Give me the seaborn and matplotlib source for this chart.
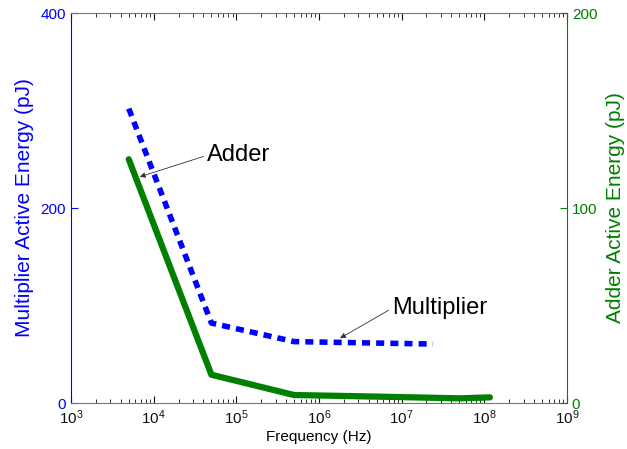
import numpy as np
import pandas as pd
import matplotlib
matplotlib.use("Agg")
import matplotlib.pyplot as plt
import seaborn as sns
from matplotlib.ticker import LogLocator

# values
mult_freq = [5e3, 5e4, 5e5, 5e6, 2.4e7]
mult_energy = [302, 82, 63, 61.5, 60.5]
adder_freq = [5e3, 5e4, 5e5, 5e6, 5e7, 1.17e8]
adder_energy = [125, 14.5, 4.1, 3.3, 2.4, 2.9]

blue = "#0000FF"
green = "#007F00"

sns.set_style("white")
plt.rcParams["font.family"] = ["Liberation Sans", "DejaVu Sans"]
plt.rcParams["mathtext.fontset"] = "custom"
plt.rcParams["mathtext.rm"] = "Liberation Sans"
plt.rcParams["mathtext.it"] = "Liberation Sans:italic"
plt.rcParams["text.color"] = "black"

mult = pd.DataFrame({"f": mult_freq, "e": mult_energy})
adder = pd.DataFrame({"f": adder_freq, "e": adder_energy})

fig = plt.figure(figsize=(6.27, 4.49), dpi=100)
ax = fig.add_axes([0.1132, 0.1024, 0.791, 0.8686])
ax2 = ax.twinx()

sns.lineplot(data=mult, x="f", y="e", ax=ax, color=blue, lw=4,
             linestyle=(0, (1.45, 1.1)))
sns.lineplot(data=adder, x="f", y="e", ax=ax2, color=green, lw=4.5)

ax.set_xscale("log")
ax.set_xlim(1e3, 1e9)
ax.set_ylim(0, 400)
ax2.set_ylim(0, 200)
ax.xaxis.set_major_locator(LogLocator(base=10, numticks=10))
ax.xaxis.set_minor_locator(LogLocator(base=10, subs=np.arange(2, 10), numticks=100))
ax.set_yticks([0, 200, 400])
ax2.set_yticks([0, 100, 200])

ax.tick_params(axis="x", which="both", direction="in", top=True, bottom=True,
               labelsize=11, colors="#111111", pad=4)
ax.tick_params(axis="x", which="major", length=5, width=0.8)
ax.tick_params(axis="x", which="minor", length=3, width=0.6)
ax.tick_params(axis="y", direction="in", length=5, labelsize=11,
               colors=blue, left=True, right=False)
ax2.tick_params(axis="y", direction="in", length=5, labelsize=11,
                colors=green, right=True, left=False)

for s in ["top", "bottom"]:
    ax.spines[s].set_color("#777777")
    ax2.spines[s].set_visible(False)
ax.spines["left"].set_color(blue)
ax.spines["right"].set_visible(False)
ax2.spines["left"].set_visible(False)
ax2.spines["right"].set_color(green)
for s in ax.spines.values():
    s.set_linewidth(0.8)
for s in ax2.spines.values():
    s.set_linewidth(0.8)

ax.set_xlabel("Frequency (Hz)", fontsize=11, color="black", labelpad=2)
ax.set_ylabel("Multiplier Active Energy (pJ)", fontsize=15, color=blue, labelpad=5)
ax2.set_ylabel("Adder Active Energy (pJ)", fontsize=15, color=green, labelpad=6)

arrow = dict(arrowstyle="-|>", lw=0.6, color="#333333", mutation_scale=8,
             shrinkA=0, shrinkB=0, relpos=(0, 0.5))
ax.annotate("Adder", xy=(6.8e3, 232), xytext=(4.4e4, 254), fontsize=17,
            color="black", ha="left", va="center", arrowprops=arrow)
ax.annotate("Multiplier", xy=(1.8e6, 66.5), xytext=(7.6e6, 97), fontsize=17,
            color="black", ha="left", va="center", arrowprops=arrow)

fig.savefig("out.png", dpi=100)
